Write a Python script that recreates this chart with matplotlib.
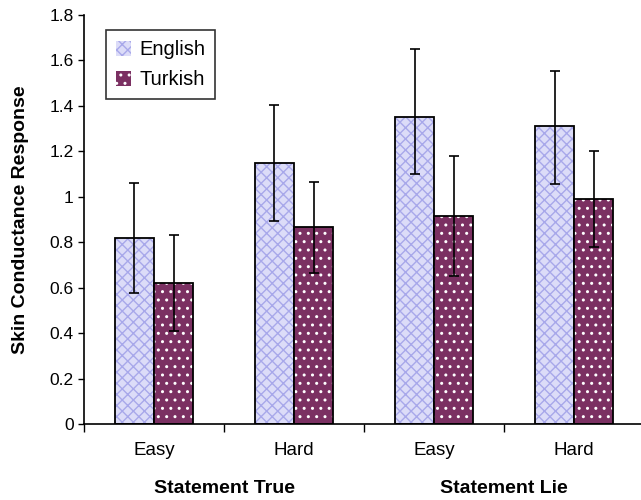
import numpy as np
import matplotlib.pyplot as plt
from matplotlib.patches import Patch

plt.rcParams['font.family'] = ['Liberation Sans', 'DejaVu Sans']

# data
conditions = ['Easy', 'Hard', 'Easy', 'Hard']
groups = ['Statement True', 'Statement Lie']
english = [0.82, 1.15, 1.35, 1.31]
english_lo = [0.575, 0.895, 1.10, 1.055]
english_hi = [1.06, 1.405, 1.65, 1.555]
turkish = [0.62, 0.865, 0.915, 0.99]
turkish_lo = [0.41, 0.665, 0.65, 0.78]
turkish_hi = [0.83, 1.065, 1.18, 1.20]

fig = plt.figure(figsize=(6.41, 5.0), dpi=100)
ax = fig.add_axes([0.131, 0.152, 0.874, 0.818])

x = np.arange(len(conditions)) + 0.5
w = 0.28

eng_face = '#dcdcf8'
eng_hatch = '#a8a8ea'
tur_face = '#7b3062'
tur_hatch = 'white'

def draw(xpos, vals, lo, hi, face, hcol, hatch):
    # fill + hatch first, outline on top
    ax.bar(xpos, vals, w, color=face, edgecolor=hcol, hatch=hatch, linewidth=0)
    ax.bar(xpos, vals, w, fill=False, edgecolor='black', linewidth=1.3)
    vals = np.array(vals)
    yerr = [vals - np.array(lo), np.array(hi) - vals]
    ax.errorbar(xpos, vals, yerr=yerr, fmt='none', ecolor='black',
                elinewidth=1.2, capsize=3.3, capthick=1.2)

draw(x - w / 2, english, english_lo, english_hi, eng_face, eng_hatch, 'xxx')
draw(x + w / 2, turkish, turkish_lo, turkish_hi, tur_face, tur_hatch, '..')

ax.set_xlim(0, 4)
ax.set_ylim(0, 1.8)
ax.set_yticks(np.arange(0, 1.81, 0.2))
ax.set_yticklabels(['0', '0.2', '0.4', '0.6', '0.8', '1', '1.2', '1.4', '1.6', '1.8'],
                   fontsize=12.5)
ax.tick_params(axis='y', direction='out', length=4.5, width=1, pad=3)

ax.set_xticks(np.arange(0, 5))
ax.set_xticklabels([])
ax.set_xticks(x, minor=True)
ax.set_xticklabels(conditions, minor=True, fontsize=13.5)
ax.tick_params(axis='x', which='major', direction='out', length=6, width=1)
ax.tick_params(axis='x', which='minor', length=0, pad=13)

for s in ['top', 'right']:
    ax.spines[s].set_visible(False)
for s in ['left', 'bottom']:
    ax.spines[s].set_linewidth(1.2)

for i, g in enumerate(groups):
    ax.text(1 + 2 * i, -0.285, g, ha='center', va='center', fontsize=14,
            fontweight='bold', transform=ax.transData, clip_on=False)

ax.set_ylabel('Skin Conductance Response', fontsize=14, fontweight='bold')
ax.yaxis.set_label_coords(-0.098, 0.5)

handles = [Patch(facecolor=eng_face, edgecolor=eng_hatch, hatch='xxx', linewidth=0),
           Patch(facecolor=tur_face, edgecolor=tur_hatch, hatch='..', linewidth=0)]
leg = ax.legend(handles, ['English', 'Turkish'], loc='upper left',
                bbox_to_anchor=(0.039, 0.963), fontsize=14.5, frameon=True,
                fancybox=False, edgecolor='black', handlelength=0.75,
                handleheight=0.75, handletextpad=0.4, borderpad=0.5,
                labelspacing=0.55, borderaxespad=0)
leg.get_frame().set_linewidth(1.2)

fig.savefig('out.png', dpi=100)
